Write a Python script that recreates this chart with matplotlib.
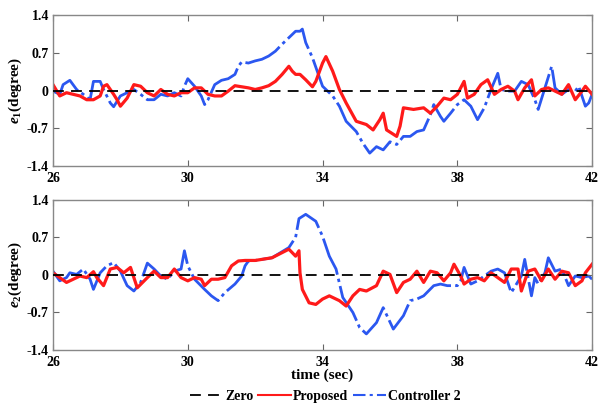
import matplotlib
matplotlib.use('Agg')
import matplotlib.pyplot as plt
from matplotlib.lines import Line2D

plt.rcParams['font.family'] = ['Liberation Serif', 'DejaVu Serif']
plt.rcParams['font.weight'] = 'bold'
plt.rcParams['mathtext.fontset'] = 'custom'
plt.rcParams['mathtext.it'] = 'Liberation Serif:italic:bold'
plt.rcParams['mathtext.rm'] = 'Liberation Serif:bold'
plt.rcParams['mathtext.bf'] = 'Liberation Serif:bold'

# ---- data ----
# top panel, e1
t_prop1 = [26.0, 26.2, 26.4, 26.6, 26.8, 27.0, 27.2, 27.4, 27.5, 27.6, 27.8, 27.9, 28.0, 28.2,
           28.4, 28.6, 28.8, 29.0, 29.2, 29.4, 29.6, 29.8, 30.0, 30.2, 30.4, 30.6, 30.8, 31.0,
           31.2, 31.4, 31.6, 31.8, 32.0, 32.2, 32.4, 32.6, 32.8, 33.0, 33.1, 33.2, 33.33, 33.5,
           33.7, 33.8, 34.0, 34.1, 34.3, 34.5, 34.7, 35.0, 35.3, 35.5, 35.7, 35.8, 35.9, 36.2,
           36.3, 36.4, 36.7, 37.0, 37.2, 37.4, 37.6, 37.8, 38.0, 38.2, 38.3, 38.5, 38.7, 38.9,
           39.1, 39.3, 39.5, 39.7, 39.8, 40.0, 40.2, 40.3, 40.5, 40.7, 40.9, 41.1, 41.3, 41.5,
           41.7, 41.8, 42.0]
e1_prop = [0.11, -0.1, -0.04, -0.07, -0.1, -0.17, -0.17, -0.1, 0.08, 0.11, -0.07, -0.17, -0.29, -0.14,
           0.11, 0.08, -0.04, -0.1, 0.02, -0.07, -0.1, -0.04, -0.04, 0.05, 0.05, -0.07, -0.1, -0.1,
           -0.01, 0.09, 0.07, 0.05, 0.02, 0.05, 0.09, 0.17, 0.3, 0.45, 0.36, 0.3, 0.3, 0.2,
           0.07, 0.17, 0.51, 0.63, 0.36, 0.02, -0.23, -0.57, -0.63, -0.73, -0.54, -0.42, -0.73, -0.85,
           -0.66, -0.32, -0.35, -0.32, -0.42, -0.29, -0.14, -0.17, -0.07, 0.17, -0.14, -0.07, 0.11, 0.2,
           -0.07, 0.02, 0.08, -0.01, -0.17, 0.05, 0.2, -0.1, 0.02, 0.05, -0.01, -0.07, 0.11, -0.17,
           -0.01, 0.08, -0.07]

t_ctrl1 = [26.0, 26.2, 26.3, 26.5, 26.7, 26.9, 27.1, 27.2, 27.4, 27.5, 27.7, 27.8, 28.0, 28.2,
           28.4, 28.6, 28.8, 29.0, 29.2, 29.4, 29.6, 29.8, 29.9, 30.0, 30.2, 30.4, 30.5, 30.6,
           30.8, 31.0, 31.2, 31.4, 31.5, 31.6, 31.8, 32.0, 32.2, 32.4, 32.6, 32.8, 33.0, 33.2,
           33.33, 33.4, 33.5, 33.7, 34.0, 34.3, 34.5, 34.7, 35.0, 35.2, 35.4, 35.6, 35.8, 36.0,
           36.2, 36.4, 36.6, 36.8, 37.0, 37.2, 37.3, 37.5, 37.6, 37.8, 38.0, 38.2, 38.4, 38.6,
           38.8, 39.0, 39.2, 39.3, 39.5, 39.7, 39.9, 40.1, 40.3, 40.4, 40.6, 40.8, 40.9, 41.1,
           41.3, 41.5, 41.6, 41.8, 41.9, 42.0]
e1_ctrl = [-0.01, -0.07, 0.11, 0.19, 0.02, -0.07, -0.17, 0.17, 0.17, 0.02, -0.23, -0.3, -0.1, -0.04,
           0.02, -0.07, -0.17, -0.17, -0.07, -0.1, -0.04, -0.1, 0.08, 0.22, 0.08, -0.1, -0.26, -0.17,
           0.11, 0.19, 0.22, 0.3, 0.45, 0.53, 0.51, 0.55, 0.58, 0.64, 0.73, 0.86, 0.98, 1.1,
           1.1, 1.14, 0.89, 0.61, 0.08, -0.1, -0.29, -0.57, -0.76, -0.98, -1.16, -1.04, -1.1, -0.95,
           -1.0, -0.85, -0.85, -0.76, -0.73, -0.45, -0.26, -0.48, -0.57, -0.42, -0.26, -0.17, -0.29, -0.54,
           -0.32, 0.02, 0.32, 0.02, -0.01, -0.01, 0.17, 0.11, -0.17, -0.35, 0.05, 0.45, 0.05, -0.07,
           0.02, -0.01, 0.08, -0.29, -0.23, -0.07]

# bottom panel, e2
t_prop2 = [26.0, 26.2, 26.4, 26.6, 26.8, 27.0, 27.2, 27.3, 27.5, 27.7, 27.9, 28.1, 28.3, 28.5,
           28.8, 29.0, 29.2, 29.4, 29.6, 29.8, 30.0, 30.2, 30.4, 30.5, 30.7, 30.9, 31.1, 31.3,
           31.5, 31.7, 32.0, 32.5, 33.0, 33.2, 33.3, 33.33, 33.4, 33.6, 33.8, 34.0, 34.2, 34.5,
           34.7, 34.9, 35.1, 35.3, 35.6, 35.8, 36.0, 36.2, 36.4, 36.6, 36.8, 37.0, 37.2, 37.4,
           37.6, 37.8, 37.9, 38.1, 38.2, 38.4, 38.6, 38.8, 39.0, 39.2, 39.4, 39.6, 39.8, 39.9,
           40.1, 40.3, 40.5, 40.7, 40.9, 41.1, 41.3, 41.5, 41.7, 41.8, 42.0]
e2_prop = [0.04, -0.05, -0.14, -0.08, -0.02, -0.05, 0.06, -0.05, -0.2, 0.11, 0.14, 0.04, 0.14, -0.24,
           -0.05, 0.07, -0.05, -0.05, 0.11, -0.05, -0.11, -0.05, -0.08, -0.2, -0.08, -0.08, -0.05, 0.17,
           0.26, 0.27, 0.27, 0.32, 0.48, 0.35, 0.45, 0.04, -0.27, -0.52, -0.55, -0.45, -0.39, -0.48,
           -0.58, -0.39, -0.27, -0.3, -0.2, 0.07, 0.01, -0.33, -0.14, -0.08, 0.07, -0.14, 0.07, 0.04,
           -0.11, 0.04, 0.2, -0.02, -0.17, -0.08, -0.05, -0.11, 0.04, -0.05, -0.14, 0.11, 0.11, -0.3,
           0.07, 0.11, -0.11, 0.11, -0.08, 0.07, 0.04, -0.2, -0.11, 0.04, 0.2]

t_ctrl2 = [26.0, 26.2, 26.4, 26.5, 26.7, 26.9, 27.1, 27.2, 27.4, 27.6, 27.8, 28.0, 28.2, 28.4,
           28.6, 28.8, 29.0, 29.2, 29.4, 29.6, 29.8, 29.9, 30.0, 30.2, 30.5, 30.7, 30.9, 31.1,
           31.4, 31.6, 31.7, 31.8, 32.0, 32.5, 33.0, 33.2, 33.3, 33.5, 33.8, 34.0, 34.2, 34.4,
           34.6, 34.9, 35.1, 35.3, 35.6, 35.8, 36.1, 36.4, 36.6, 36.8, 37.0, 37.3, 37.5, 37.7,
           38.0, 38.1, 38.2, 38.4, 38.6, 38.8, 39.0, 39.2, 39.4, 39.6, 39.9, 40.0, 40.2, 40.3,
           40.4, 40.6, 40.7, 40.9, 41.1, 41.3, 41.5, 41.7, 41.9, 42.0]
e2_ctrl = [0.07, -0.11, -0.05, 0.04, 0.01, 0.11, -0.08, -0.27, 0.04, 0.17, 0.23, 0.07, -0.2, -0.3,
           -0.14, 0.22, 0.11, -0.02, -0.08, 0.07, 0.11, 0.45, 0.17, -0.08, -0.27, -0.39, -0.48, -0.33,
           -0.17, -0.02, 0.17, 0.26, 0.27, 0.32, 0.51, 0.7, 1.05, 1.13, 1.0, 0.72, 0.35, 0.11,
           -0.42, -0.7, -0.98, -1.1, -0.89, -0.61, -1.01, -0.76, -0.48, -0.45, -0.39, -0.2, -0.17, -0.2,
           -0.2, -0.11, 0.14, -0.17, -0.11, -0.02, 0.07, 0.11, 0.04, -0.33, -0.02, 0.29, -0.39, -0.05,
           -0.17, 0.04, 0.32, 0.07, 0.11, -0.2, -0.02, -0.05, -0.02, -0.08]

x_ticks = [26, 30, 34, 38, 42]
y_ticks = [1.4, 0.7, 0, -0.7, -1.4]
y_tick_labels = ['1.4', '0.7', '0', '-0.7', '-1.4']

RED = '#ff1a1a'
BLUE = '#2b57f0'
CTRL_STYLE = (0, (14, 1.5, 1.2, 1.5))
ZERO_STYLE = (0, (6, 4))

fig = plt.figure(figsize=(5.99, 4.07), dpi=100)
ax1 = fig.add_axes([0.0885, 0.592, 0.900, 0.371])
ax2 = fig.add_axes([0.0885, 0.140, 0.900, 0.369])

panels = [
    (ax1, t_prop1, e1_prop, t_ctrl1, e1_ctrl, r'$e_1$(degree)'),
    (ax2, t_prop2, e2_prop, t_ctrl2, e2_ctrl, r'$e_2$(degree)'),
]

for ax, tp, ep, tc, ec, lab in panels:
    ax.axhline(0, color='black', lw=1.3, ls=ZERO_STYLE, zorder=3)
    ax.plot(tc, ec, color=BLUE, lw=2.0, ls=CTRL_STYLE, zorder=1)
    ax.plot(tp, ep, color=RED, lw=2.3, zorder=2)
    ax.set_xlim(26, 42)
    ax.set_ylim(-1.4, 1.4)
    ax.set_xticks(x_ticks)
    ax.set_yticks(y_ticks)
    ax.set_yticklabels(y_tick_labels)
    ax.tick_params(direction='in', top=True, right=True, length=4, width=0.8,
                   color='#666666', labelsize=10, pad=3)
    ax.tick_params(axis='x', pad=4)
    for lbl in ax.get_xticklabels() + ax.get_yticklabels():
        lbl.set_fontweight('bold')
    for sp in ax.spines.values():
        sp.set_color('#888888')
        sp.set_linewidth(1.0)
    ax.set_ylabel(lab, fontsize=11, fontweight='bold', labelpad=2)

ax2.set_xlabel('time (sec)', fontsize=11, fontweight='bold', labelpad=0)

handles = [
    Line2D([], [], color='black', lw=1.3, ls=ZERO_STYLE),
    Line2D([], [], color=RED, lw=1.5),
    Line2D([], [], color=BLUE, lw=1.5, ls=(0, (6, 2, 1.5, 2))),
]
fig.legend(handles, ['Zero', 'Proposed', 'Controller 2'], loc='center',
           bbox_to_anchor=(0.543, 0.025), ncol=3, frameon=False,
           prop={'weight': 'bold', 'size': 10}, handlelength=2.4,
           handletextpad=0.15, columnspacing=0.3)

fig.savefig('out.png', dpi=100)
